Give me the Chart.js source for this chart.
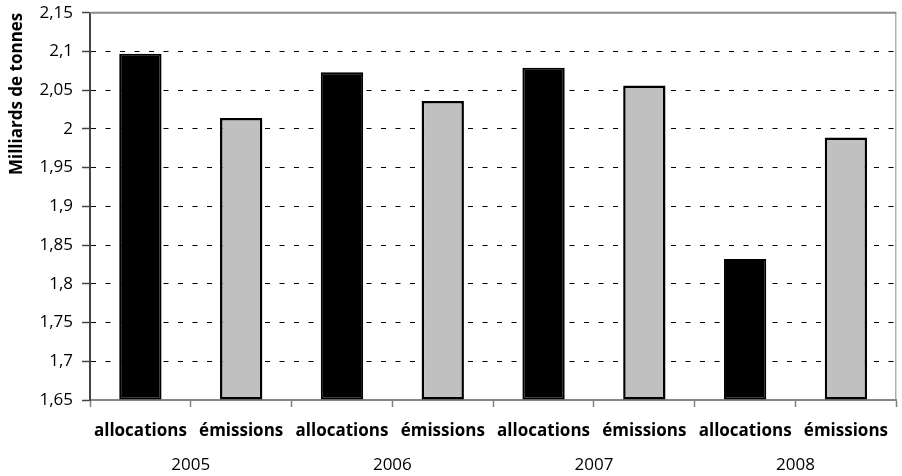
<!DOCTYPE html>
<html>
<head>
<meta charset="utf-8">
<script src="https://cdn.jsdelivr.net/npm/chart.js@4"></script>
<style>
  html, body { margin: 0; padding: 0; background: #fff; }
  #wrap { width: 902px; height: 476px; }
</style>
</head>
<body>
<div id="wrap"><canvas id="c" width="902" height="476"></canvas></div>
<script>
const years = ['2005', '2006', '2007', '2008'];
const seriesNames = ['allocations', 'émissions'];
const allocations = [2.097, 2.073, 2.079, 1.832];
const emissions = [2.014, 2.036, 2.056, 1.989];
const yMin = 1.65;
const yMax = 2.15;
const yStep = 0.05;
const yTitle = 'Milliards de tonnes';

// 8 categories: allocations / émissions for each year
const categories = [];
const allocData = [];
const emisData = [];
years.forEach((y, i) => {
  categories.push(seriesNames[0]);
  allocData.push(allocations[i]);
  emisData.push(null);
  categories.push(seriesNames[1]);
  allocData.push(null);
  emisData.push(emissions[i]);
});

const frame = {
  id: 'frame',
  afterDraw(chart) {
    const {ctx, chartArea: a} = chart;
    ctx.save();
    ctx.strokeStyle = '#8a8a8a';
    ctx.lineWidth = 2;
    ctx.beginPath();
    ctx.moveTo(a.left, a.top);
    ctx.lineTo(a.right, a.top);
    ctx.stroke();
    ctx.lineWidth = 1;
    ctx.beginPath();
    ctx.moveTo(a.right - 0.5, a.top);
    ctx.lineTo(a.right - 0.5, a.bottom);
    ctx.stroke();
    ctx.restore();
  }
};

new Chart(document.getElementById('c'), {
  type: 'bar',
  data: {
    labels: categories,
    datasets: [
      { label: seriesNames[0], data: allocData, backgroundColor: '#000000', borderColor: '#000000',
        borderWidth: 2, borderSkipped: false, base: yMin, skipNull: true,
        barPercentage: 0.42, categoryPercentage: 1 },
      { label: seriesNames[1], data: emisData, backgroundColor: '#C0C0C0', borderColor: '#000000',
        borderWidth: 2.5, borderSkipped: false, base: yMin, skipNull: true,
        barPercentage: 0.42, categoryPercentage: 1 }
    ]
  },
  options: {
    responsive: false,
    animation: false,
    devicePixelRatio: 1,
    layout: { padding: { top: 12.7, right: 0, bottom: 0, left: 0 } },
    plugins: { legend: { display: false }, tooltip: { enabled: false } },
    scales: {
      x: {
        position: 'bottom',
        offset: true,
        afterFit(s) { s.height = 45; },
        grid: { offset: true, drawOnChartArea: false, drawTicks: true, tickLength: 7,
                tickColor: '#808080', tickWidth: 1.5, color: '#808080' },
        border: { display: true, color: '#868686', width: 2 },
        ticks: { autoSkip: false, maxRotation: 0, padding: 14, color: '#000',
                 font: { family: 'Open Sans', size: 17, weight: 'bold' } }
      },
      x2: {
        type: 'category',
        position: 'bottom',
        labels: years,
        offset: true,
        afterFit(s) { s.height = 31; },
        grid: { display: false, drawTicks: false },
        border: { display: false },
        ticks: { autoSkip: false, maxRotation: 0, padding: 10, color: '#000',
                 font: { family: 'Open Sans', size: 17 } }
      },
      y: {
        min: yMin,
        max: yMax,
        afterFit(s) { s.width = 90; s.paddingTop = 0; s.paddingBottom = 0; },
        ticks: {
          stepSize: yStep,
          padding: 9,
          color: '#000',
          font: { family: 'Open Sans', size: 17 },
          callback: (v) => String(Math.round(v * 100) / 100).replace('.', ',')
        },
        grid: { color: '#000', lineWidth: 1, tickLength: 8, tickColor: '#444', tickWidth: 1.5,
                tickBorderDash: [] },
        border: { display: true, color: '#444', width: 2, dash: [5, 9.5] },
        title: { display: true, text: yTitle, align: 'end', padding: { top: 6.5, bottom: 0 },
                 color: '#000', font: { family: 'Open Sans', size: 17, weight: 'bold' } }
      }
    }
  },
  plugins: [frame]
});
</script>
</body>
</html>
